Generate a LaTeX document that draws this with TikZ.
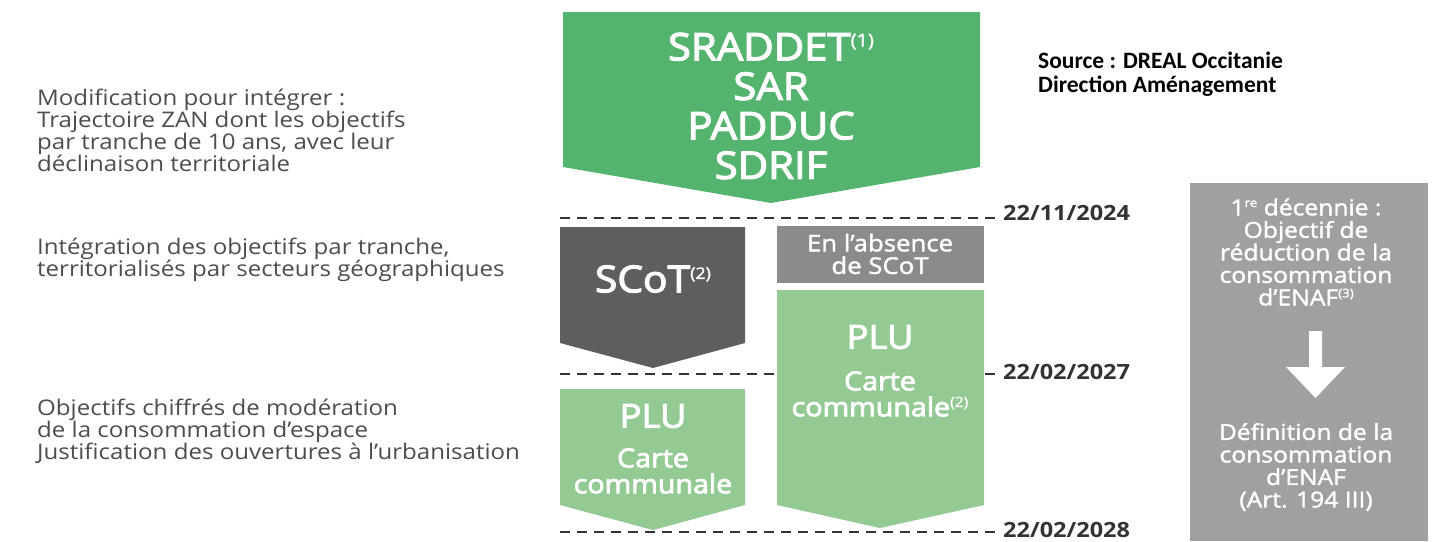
\documentclass[tikz,border=0pt]{standalone}
\usepackage{fontspec}
\setmainfont{Open Sans}[FakeStretch=1.12]
\newfontfamily\medfont{Open Sans}[FakeStretch=1.12, FakeBold=1.6]
\newfontfamily\titlefont{Open Sans}[FakeStretch=1.1, FakeBold=3.2]
\newfontfamily\srcfont{Carlito}
\usepackage{xcolor}
\usetikzlibrary{arrows.meta}
\definecolor{zanGreen}{HTML}{54B36E}
\definecolor{pluGreen}{HTML}{93C993}
\definecolor{scotGray}{HTML}{5E5E5E}
\definecolor{absGray}{HTML}{8B8B8B}
\definecolor{panelGray}{HTML}{A0A0A0}
\definecolor{noteGray}{HTML}{4D4D4D}
\definecolor{dateGray}{HTML}{333333}
% footnote call, second argument = size in pt
\newcommand\refnum[2]{\raisebox{.36em}{\medfont\fontsize{#2}{#2}\selectfont(#1)}}
\tikzset{
leftnote/.style = {anchor=west, align=left, inner sep=0pt, text=noteGray,
                   font=\fontsize{21.5}{22}\selectfont},
bigtitle/.style = {align=center, inner sep=0pt, text=white,
                   font=\titlefont\fontsize{#1}{39.5}\selectfont},
bigtitle/.default = 38,
subtitle/.style = {align=center, inner sep=0pt, text=white,
                   font=\titlefont\fontsize{26}{26}\selectfont},
paneltext/.style = {align=center, inner sep=0pt, text=white,
                    font=\medfont\fontsize{#1}{22.5}\selectfont},
paneltext/.default = 22,
datelabel/.style = {anchor=west, inner sep=0pt, text=dateGray,
                    font=\bfseries\fontsize{21}{22}\selectfont},
cutline/.style = {draw=dateGray, line width=1.6pt, dash pattern=on 10pt off 7pt}
}

\begin{document}
\begin{tikzpicture}[x=1pt, y=-1pt]
    \useasboundingbox[fill=white] (0,0) rectangle (1434,541);

    % texts on the left
    \node[leftnote] (noteZan) at (37,130) {Modification pour intégrer :\\Trajectoire ZAN dont les objectifs\\par tranche de 10 ans, avec leur\\déclinaison territoriale};
    \node[leftnote] (noteScot) at (37,260) {Intégration des objectifs par tranche,\\territorialisés par secteurs géographiques};
    \node[leftnote] (notePlu) at (37,431) {Objectifs chiffrés de modération\\de la consommation d’espace\\Justification des ouvertures à l’urbanisation};

    % dates and dashed cut lines
    \node[datelabel] (date1) at (1003,213) {22/11/2024};
    \node[datelabel] (date2) at (1003,372) {22/02/2027};
    \node[datelabel] (date3) at (1003,530) {22/02/2028};
    \coordinate (cut1) at (560,218);
    \coordinate (cut2) at (560,374);
    \coordinate (cut3) at (560,532);
    \draw[cutline, shorten >=5pt] (cut1) -- (cut1 -| date1.west);
    \draw[cutline, shorten >=5pt] (cut2) -- (cut2 -| date2.west);
    \draw[cutline, shorten >=5pt] (cut3) -- (cut3 -| date3.west);

    % regional schemes
    \fill[zanGreen] (563,12) -- (980,12) -- (980,167) -- (771,203) -- (563,167) -- cycle;
    \node[bigtitle] (sraddet) at (771,106) {SRADDET\refnum{1}{18}\\SAR\\PADDUC\\SDRIF};

    % SCoT and local plans
    \fill[scotGray] (560,227) -- (745,227) -- (745,343) -- (653,368) -- (560,343) -- cycle;
    \node[bigtitle=37] (scot) at (653,279) {SCoT\refnum{2}{16}};

    \fill[absGray] (777,226) rectangle (984,283);
    \node[paneltext=23] (absence) at (880,254) {En l’absence\\de SCoT};

    \fill[pluGreen] (777,290) -- (984,290) -- (984,505) -- (880,528) -- (777,505) -- cycle;
    \node[bigtitle=33] (pluRight) at (880,337) {PLU};
    \node[subtitle] (carteRight) at (880,394) {Carte\\communale\refnum{2}{14}};

    \fill[pluGreen] (560,389) -- (745,389) -- (745,505) -- (653,530) -- (560,505) -- cycle;
    \node[bigtitle=33] (pluLeft) at (653,416) {PLU};
    \node[subtitle] (carteLeft) at (653,471) {Carte\\communale};

    % first decade panel
    \fill[panelGray] (1190,183) rectangle (1428,541);
    \node[paneltext] (decade) at (1306,252) {1\raisebox{.38em}{\fontsize{12}{12}\selectfont re} décennie :\\Objectif de\\réduction de la\\consommation\\d’ENAF\refnum{3}{12}};
    \node[paneltext] (definition) at (1306,467) {Définition de la\\consommation\\d’ENAF\\(Art. 194 III)};
    \fill[white] (1309,331) -- (1322,331) -- (1322,367) -- (1345,367) -- (1315.5,398)
                 -- (1286,367) -- (1309,367) -- cycle;

    % source
    \node[anchor=west, align=left, inner sep=0pt,
          font=\srcfont\bfseries\fontsize{23.5}{24}\selectfont] (source) at (1038,74)
          {Source : DREAL Occitanie\\Direction Aménagement};
\end{tikzpicture}
\end{document}
